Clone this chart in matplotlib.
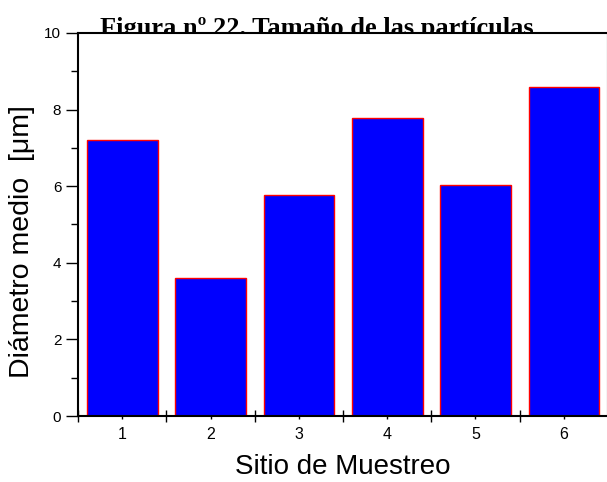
import numpy as np
import matplotlib
matplotlib.use('Agg')
import matplotlib.pyplot as plt
from matplotlib.ticker import MultipleLocator

sitios = [1, 2, 3, 4, 5, 6]
diametro = [7.2, 3.61, 5.77, 7.77, 6.02, 8.59]

W, H = 607, 482
top, bottom, left, right = 33, 416, 78, 608
fig = plt.figure(figsize=(W / 100, H / 100), dpi=100)
ax = fig.add_axes([left / W, (H - bottom) / H, (right - left) / W, (bottom - top) / H])
ax.set_zorder(1)

ax.bar(sitios, diametro, width=0.8, color='#0000FF', edgecolor='red', linewidth=1, zorder=2)

ax.set_xlim(0.5, 6.5)
ax.set_ylim(0, 10)
ax.xaxis.set_major_locator(MultipleLocator(1))
ax.xaxis.set_minor_locator(MultipleLocator(0.5, offset=0.5))
ax.yaxis.set_major_locator(MultipleLocator(2))
ax.yaxis.set_minor_locator(MultipleLocator(1))

ax.tick_params(axis='x', which='major', direction='out', length=2, width=1,
               labelsize=11.5, pad=6)
ax.tick_params(axis='x', which='minor', direction='inout', length=9, width=1)
ax.tick_params(axis='y', which='major', direction='out', length=9, width=1,
               labelsize=11, pad=3)
ax.tick_params(axis='y', which='minor', direction='out', length=5, width=1)
for lab in ax.get_xticklabels() + ax.get_yticklabels():
    lab.set_fontfamily('Liberation Sans')

for s in ax.spines.values():
    s.set_linewidth(1.5)

ax.set_xlabel('Sitio de Muestreo', fontsize=20, family='Liberation Sans', va='center')
ax.xaxis.set_label_coords(0.5, (bottom - 467) / (bottom - top))
ax.set_ylabel('Diámetro medio  [μm]', fontsize=20.5, family='Liberation Sans', va='center')
ax.yaxis.set_label_coords((22 - left) / (right - left), (bottom - 241.5) / (bottom - top))

# title sits behind the axes, so the plot area hides its lower edge
fig.text(317 / W, 1 - 35 / H, 'Figura nº 22. Tamaño de las partículas',
         ha='center', va='baseline', fontsize=19, fontweight='bold',
         family='Liberation Serif', zorder=0)

fig.savefig('out.png', dpi=100)
